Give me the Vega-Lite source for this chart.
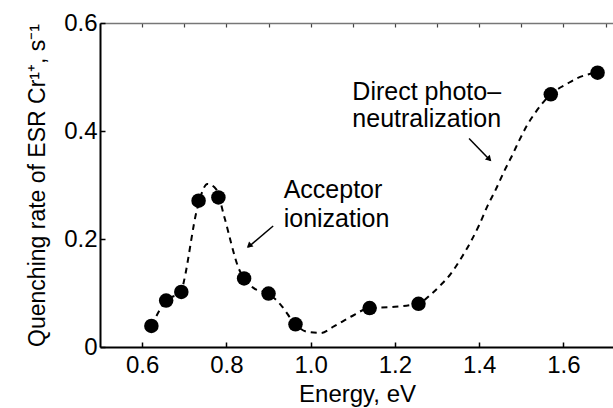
{
  "$schema": "https://vega.github.io/schema/vega-lite/v6.json",
  "width": 514,
  "height": 324,
  "autosize": "none",
  "padding": {"left": 100, "top": 23, "right": 0, "bottom": 61},
  "background": "white",
  "config": {
    "view": {"stroke": null},
    "font": "Liberation Sans",
    "axis": {"grid": false, "labelFont": "Liberation Sans", "titleFont": "Liberation Sans", "labelColor": "black", "titleColor": "black", "domainColor": "black", "tickColor": "black", "titleFontWeight": "normal"}
  },
  "resolve": {"axis": {"x": "independent"}},
  "datasets": {
    "points": [
      {"energy": 0.622, "rate": 0.039},
      {"energy": 0.657, "rate": 0.086},
      {"energy": 0.693, "rate": 0.102},
      {"energy": 0.734, "rate": 0.271},
      {"energy": 0.781, "rate": 0.277},
      {"energy": 0.842, "rate": 0.127},
      {"energy": 0.900, "rate": 0.099},
      {"energy": 0.964, "rate": 0.042},
      {"energy": 1.140, "rate": 0.072},
      {"energy": 1.256, "rate": 0.080},
      {"energy": 1.570, "rate": 0.468},
      {"energy": 1.681, "rate": 0.508}
    ],
    "curve": [
      {"energy": 0.622, "rate": 0.039},
      {"energy": 0.657, "rate": 0.086},
      {"energy": 0.693, "rate": 0.102},
      {"energy": 0.699, "rate": 0.121},
      {"energy": 0.731, "rate": 0.257},
      {"energy": 0.755, "rate": 0.302},
      {"energy": 0.776, "rate": 0.292},
      {"energy": 0.794, "rate": 0.244},
      {"energy": 0.829, "rate": 0.146},
      {"energy": 0.865, "rate": 0.109},
      {"energy": 0.900, "rate": 0.099},
      {"energy": 0.929, "rate": 0.078},
      {"energy": 0.964, "rate": 0.042},
      {"energy": 0.992, "rate": 0.028},
      {"energy": 1.024, "rate": 0.026},
      {"energy": 1.055, "rate": 0.038},
      {"energy": 1.095, "rate": 0.056},
      {"energy": 1.140, "rate": 0.072},
      {"energy": 1.190, "rate": 0.074},
      {"energy": 1.257, "rate": 0.081},
      {"energy": 1.285, "rate": 0.097},
      {"energy": 1.309, "rate": 0.115},
      {"energy": 1.332, "rate": 0.135},
      {"energy": 1.356, "rate": 0.163},
      {"energy": 1.380, "rate": 0.195},
      {"energy": 1.400, "rate": 0.226},
      {"energy": 1.419, "rate": 0.260},
      {"energy": 1.439, "rate": 0.291},
      {"energy": 1.459, "rate": 0.325},
      {"energy": 1.479, "rate": 0.356},
      {"energy": 1.496, "rate": 0.384},
      {"energy": 1.514, "rate": 0.411},
      {"energy": 1.535, "rate": 0.436},
      {"energy": 1.553, "rate": 0.454},
      {"energy": 1.570, "rate": 0.468},
      {"energy": 1.610, "rate": 0.488},
      {"energy": 1.633, "rate": 0.498},
      {"energy": 1.681, "rate": 0.508}
    ],
    "labels": [
      {"energy": 0.936, "rate": 0.276, "text": "Acceptor"},
      {"energy": 0.936, "rate": 0.222, "text": "ionization"},
      {"energy": 1.099, "rate": 0.457, "text": "Direct photo–"},
      {"energy": 1.099, "rate": 0.407, "text": "neutralization"}
    ],
    "arrows": [
      {"name": "acceptor", "x1": 0.911, "y1": 0.224, "x2": 0.852, "y2": 0.185, "hx": 0.8555, "hy": 0.1885},
      {"name": "direct", "x1": 1.376, "y1": 0.386, "x2": 1.426, "y2": 0.346, "hx": 1.4225, "hy": 0.3490}
    ],
    "topaxis": [{"energy": 0.6}]
  },
  "layer": [
    {
      "data": {"name": "curve"},
      "mark": {"type": "line", "color": "black", "strokeWidth": 2, "strokeDash": [6, 5], "interpolate": "monotone"},
      "encoding": {
        "x": {
          "field": "energy", "type": "quantitative",
          "scale": {"domain": [0.5, 1.72], "nice": false, "zero": false},
          "axis": {
            "orient": "bottom",
            "title": "Energy, eV", "values": [0.6, 0.8, 1.0, 1.2, 1.4, 1.6], "format": ".1f",
            "labelFontSize": 24, "titleFontSize": 24, "tickSize": -5, "tickWidth": 1.5, "domainWidth": 2,
            "labelPadding": 11, "titlePadding": 5, "labelFlush": false
          }
        },
        "y": {
          "field": "rate", "type": "quantitative",
          "scale": {"domain": [0, 0.6], "nice": false},
          "axis": {
            "title": "Quenching rate of ESR Cr¹⁺, s⁻¹", "values": [0, 0.2, 0.4, 0.6],
            "labelExpr": "datum.value === 0 ? '0' : format(datum.value, '.1f')",
            "labelFontSize": 24, "titleFontSize": 23, "tickSize": -5, "tickWidth": 1.5, "domainWidth": 2,
            "labelPadding": 8, "titlePadding": 14, "labelFlush": false
          }
        }
      }
    },
    {
      "data": {"name": "topaxis"},
      "mark": {"type": "point", "opacity": 0},
      "encoding": {
        "x": {
          "field": "energy", "type": "quantitative",
          "axis": {"orient": "top", "title": null, "labels": false, "domain": true, "ticks": true, "values": [0.6, 0.7, 0.8, 0.9, 1.0, 1.1, 1.2, 1.3, 1.4, 1.5, 1.6, 1.7], "tickSize": -4, "domainColor": "#777777", "tickColor": "#444444", "domainWidth": 1.5, "tickWidth": 1.2}
        }
      }
    },
    {
      "data": {"name": "points"},
      "mark": {"type": "point", "shape": "circle", "filled": true, "color": "black", "opacity": 1, "size": 210},
      "encoding": {
        "x": {"field": "energy", "type": "quantitative", "axis": null},
        "y": {"field": "rate", "type": "quantitative"}
      }
    },
    {
      "data": {"name": "labels"},
      "mark": {"type": "text", "align": "left", "baseline": "alphabetic", "fontSize": 25, "font": "Liberation Sans", "color": "black"},
      "encoding": {
        "x": {"field": "energy", "type": "quantitative", "axis": null},
        "y": {"field": "rate", "type": "quantitative"},
        "text": {"field": "text"}
      }
    },
    {
      "data": {"name": "arrows"},
      "mark": {"type": "rule", "color": "black", "strokeWidth": 1.5},
      "encoding": {
        "x": {"field": "x1", "type": "quantitative", "axis": null},
        "y": {"field": "y1", "type": "quantitative"},
        "x2": {"field": "x2"},
        "y2": {"field": "y2"}
      }
    },
    {
      "data": {"name": "arrows"},
      "transform": [{"filter": "datum.name === 'acceptor'"}],
      "mark": {"type": "point", "shape": "triangle", "filled": true, "color": "black", "opacity": 1, "size": 45, "angle": 229},
      "encoding": {
        "x": {"field": "hx", "type": "quantitative", "axis": null},
        "y": {"field": "hy", "type": "quantitative"}
      }
    },
    {
      "data": {"name": "arrows"},
      "transform": [{"filter": "datum.name === 'direct'"}],
      "mark": {"type": "point", "shape": "triangle", "filled": true, "color": "black", "opacity": 1, "size": 45, "angle": 136},
      "encoding": {
        "x": {"field": "hx", "type": "quantitative", "axis": null},
        "y": {"field": "hy", "type": "quantitative"}
      }
    }
  ]
}
